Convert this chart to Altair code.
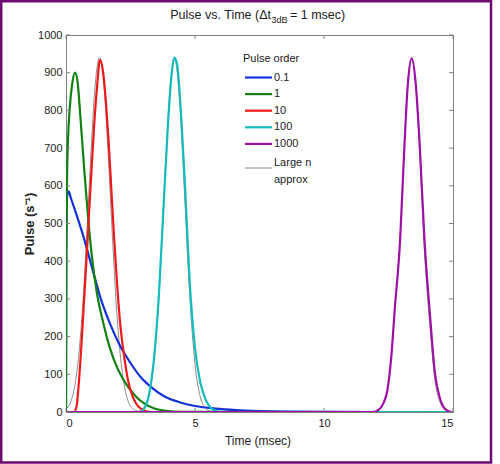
import altair as alt
import pandas as pd

# ---- pulse responses (time in msec, pulse in 1/s) ----
t_01 = [0, 0.01, 0.03, 0.06, 0.1, 0.2, 0.4, 0.7, 1.0, 1.35, 1.7, 2.1, 2.5, 2.9, 3.3, 3.8, 4.4, 5.0, 5.8, 6.6, 7.5, 8.5, 10, 12, 15]
p_01 = [0, 450, 555, 580, 585, 565, 525, 460, 385, 300, 235, 175, 130, 92, 66, 42, 26, 16, 9, 5, 2.5, 1, 0.3, 0, 0]

t_1 = [0, 0.015, 0.04, 0.08, 0.15, 0.25, 0.35, 0.45, 0.55, 0.7, 0.85, 1.0, 1.2, 1.45, 1.7, 2.0, 2.35, 2.7, 3.0, 3.4, 3.8, 4.5, 15]
p_1 = [0, 430, 620, 725, 810, 875, 900, 875, 790, 650, 520, 415, 315, 235, 170, 115, 72, 42, 24, 10, 4, 0.5, 0]

t_10 = [0, 0.3, 0.4, 0.5, 0.6, 0.7, 0.8, 0.9, 1.0, 1.1, 1.2, 1.32, 1.45, 1.55, 1.65, 1.75, 1.85, 1.95, 2.1, 2.25, 2.4, 2.6, 2.8, 3.0, 3.3, 15]
p_10 = [0, 0, 12, 80, 180, 295, 412, 535, 655, 770, 860, 934, 895, 820, 720, 600, 480, 370, 235, 150, 85, 38, 15, 5, 0, 0]

t_100 = [0, 2.9, 3.0, 3.2, 3.4, 3.6, 3.8, 3.95, 4.1, 4.2, 4.3, 4.45, 4.6, 4.8, 5.0, 5.2, 5.4, 5.6, 5.8, 6.0, 15]
p_100 = [0, 0, 6, 40, 135, 310, 570, 760, 900, 940, 925, 800, 620, 340, 170, 80, 35, 12, 3, 0, 0]

t_1000 = [0, 11.9, 12.1, 12.3, 12.45, 12.6, 12.75, 12.95, 13.1, 13.25, 13.4, 13.55, 13.7, 13.9, 14.1, 14.3, 14.5, 14.7, 14.95, 15]
p_1000 = [0, 0, 5, 23, 55, 140, 279, 456, 680, 870, 938, 875, 721, 450, 265, 103, 35, 8, 0, 0]

# large-n (Gaussian) approximations
ta_10 = [0, 0.2, 0.35, 0.5, 0.65, 0.8, 0.95, 1.1, 1.2, 1.3, 1.4, 1.5, 1.65, 1.8, 1.95, 2.1, 2.25, 2.4, 2.6, 2.8]
pa_10 = [8, 30, 73, 154, 284, 464, 664, 840, 913, 940, 913, 840, 664, 464, 284, 154, 73, 30, 8, 2]
ta_100 = [2.8, 3.0, 3.2, 3.4, 3.6, 3.8, 4.0, 4.2, 4.4, 4.6, 4.8, 5.0, 5.2, 5.4, 5.6]
pa_100 = [2, 11, 41, 127, 305, 570, 829, 940, 829, 570, 305, 127, 41, 11, 2]
ta_1000 = [11.95, 12.1, 12.3, 12.45, 12.6, 12.75, 12.95, 13.1, 13.25, 13.4, 13.55, 13.7, 13.9, 14.1, 14.3, 14.5, 14.7, 14.9]
pa_1000 = [0, 4, 22, 55, 140, 280, 460, 690, 875, 940, 870, 700, 420, 230, 85, 25, 5, 0]

orders = ["0.1", "1", "10", "100", "1000"]
colors = ["#1432dc", "#138013", "#f01818", "#14bcbc", "#a010a8"]
approx_color = "#8c8c8c"

x_ticks = [0, 5, 10, 15]
y_ticks = [0, 100, 200, 300, 400, 500, 600, 700, 800, 900, 1000]

W, H = 387, 377
PAD_L, PAD_T, PAD_R, PAD_B = 66, 35, 47, 52
FONT = "Liberation Sans"
TXT = "#222222"
FRAME = "#808080"


def frame(t, p, name):
    return pd.DataFrame({"t": t, "p": p, "series": name})


curves = {
    "0.1": frame(t_01, p_01, "0.1"),
    "1": frame(t_1, p_1, "1"),
    "10": frame(t_10, p_10, "10"),
    "100": frame(t_100, p_100, "100"),
    "1000": frame(t_1000, p_1000, "1000"),
}
approx = [frame(ta_10, pa_10, "a10"), frame(ta_100, pa_100, "a100"), frame(ta_1000, pa_1000, "a1000")]

xs = alt.Scale(domain=[0, 15], nice=False, zero=False)
ys = alt.Scale(domain=[0, 1000], nice=False)

axis_style = dict(ticks=False, domain=False, grid=False, labelFontSize=11, labelColor=TXT,
                  labelFont=FONT, title=None, labelOverlap=False, format="d")
x_enc = alt.X("t:Q", scale=xs, axis=alt.Axis(values=x_ticks, labelPadding=5, **axis_style))
y_enc = alt.Y("p:Q", scale=ys, axis=alt.Axis(values=y_ticks, labelPadding=4, **axis_style))

layers = []
# approximations underneath
for df in approx:
    layers.append(alt.Chart(df).mark_line(color=approx_color, strokeWidth=1, interpolate="monotone",
                                          clip=True).encode(x=x_enc, y=y_enc))
for name, col in zip(orders, colors):
    layers.append(alt.Chart(curves[name]).mark_line(color=col, strokeWidth=2.2, interpolate="monotone",
                                                    clip=True).encode(x=x_enc, y=y_enc))

# inward tick marks on all four sides
ytk = pd.DataFrame({"p": y_ticks})
xtk = pd.DataFrame({"t": x_ticks})
TL = 4
for x0, x1 in [(0, TL), (W - TL, W)]:
    layers.append(alt.Chart(ytk).mark_rule(color=FRAME, strokeWidth=1).encode(
        y=y_enc, x=alt.value(x0), x2=alt.value(x1)))
for y0, y1 in [(H - TL, H), (0, TL)]:
    layers.append(alt.Chart(xtk).mark_rule(color=FRAME, strokeWidth=1).encode(
        x=x_enc, y=alt.value(y0), y2=alt.value(y1)))

one = pd.DataFrame({"k": [0]})


def text(s, cx, cy, size=11, align="left", baseline="middle", weight="normal", angle=0, color=TXT):
    kw = dict(text=s, fontSize=size, align=align, baseline=baseline, fontWeight=weight,
              font=FONT, color=color)
    if angle:
        kw["angle"] = angle
    return alt.Chart(one).mark_text(**kw).encode(x=alt.value(cx - PAD_L), y=alt.value(cy - PAD_T))


# title with subscript
layers.append(text("Pulse vs. Time (\u0394t", 271, 19, size=12.5, align="right", baseline="alphabetic"))
layers.append(text("3dB", 271.5, 23, size=9, align="left", baseline="alphabetic"))
layers.append(text("= 1 msec)", 290, 19, size=12.5, align="left", baseline="alphabetic"))

# axis titles
layers.append(text("Time (msec)", 258, 441, size=12, align="center"))
layers.append(text("Pulse (s\u207b\u00b9)", 30, 224, size=13, align="center", weight="bold", angle=270))

# legend
layers.append(text("Pulse order", 243, 59, size=11))
row_y = [77.5 + 16.6 * i for i in range(5)]
for lab, col, ry in zip(orders, colors, row_y):
    layers.append(alt.Chart(one).mark_rule(color=col, strokeWidth=2.2).encode(
        x=alt.value(245 - PAD_L), x2=alt.value(272 - PAD_L), y=alt.value(ry - PAD_T)))
    layers.append(text(lab, 274, ry, size=11))
layers.append(alt.Chart(one).mark_rule(color=approx_color, strokeWidth=1).encode(
    x=alt.value(245 - PAD_L), x2=alt.value(272 - PAD_L), y=alt.value(168 - PAD_T)))
layers.append(text("Large n", 274, 162.5, size=11))
layers.append(text("approx", 274, 180, size=11))

# outer figure frame
layers.append(alt.Chart(one).mark_rect(fill=None, stroke="#6c0a72", strokeWidth=2.5).encode(
    x=alt.value(1.2 - PAD_L), x2=alt.value(491 - PAD_L), y=alt.value(1.2 - PAD_T), y2=alt.value(462.5 - PAD_T)))

chart = alt.layer(*layers).properties(
    width=W, height=H,
    padding={"left": PAD_L, "top": PAD_T, "right": PAD_R, "bottom": PAD_B},
    autosize=alt.AutoSizeParams(type="none"),
    background="white",
).configure_view(stroke=FRAME, strokeWidth=1)

chart.save("out.html", embed_options={"renderer": "svg", "actions": False})
